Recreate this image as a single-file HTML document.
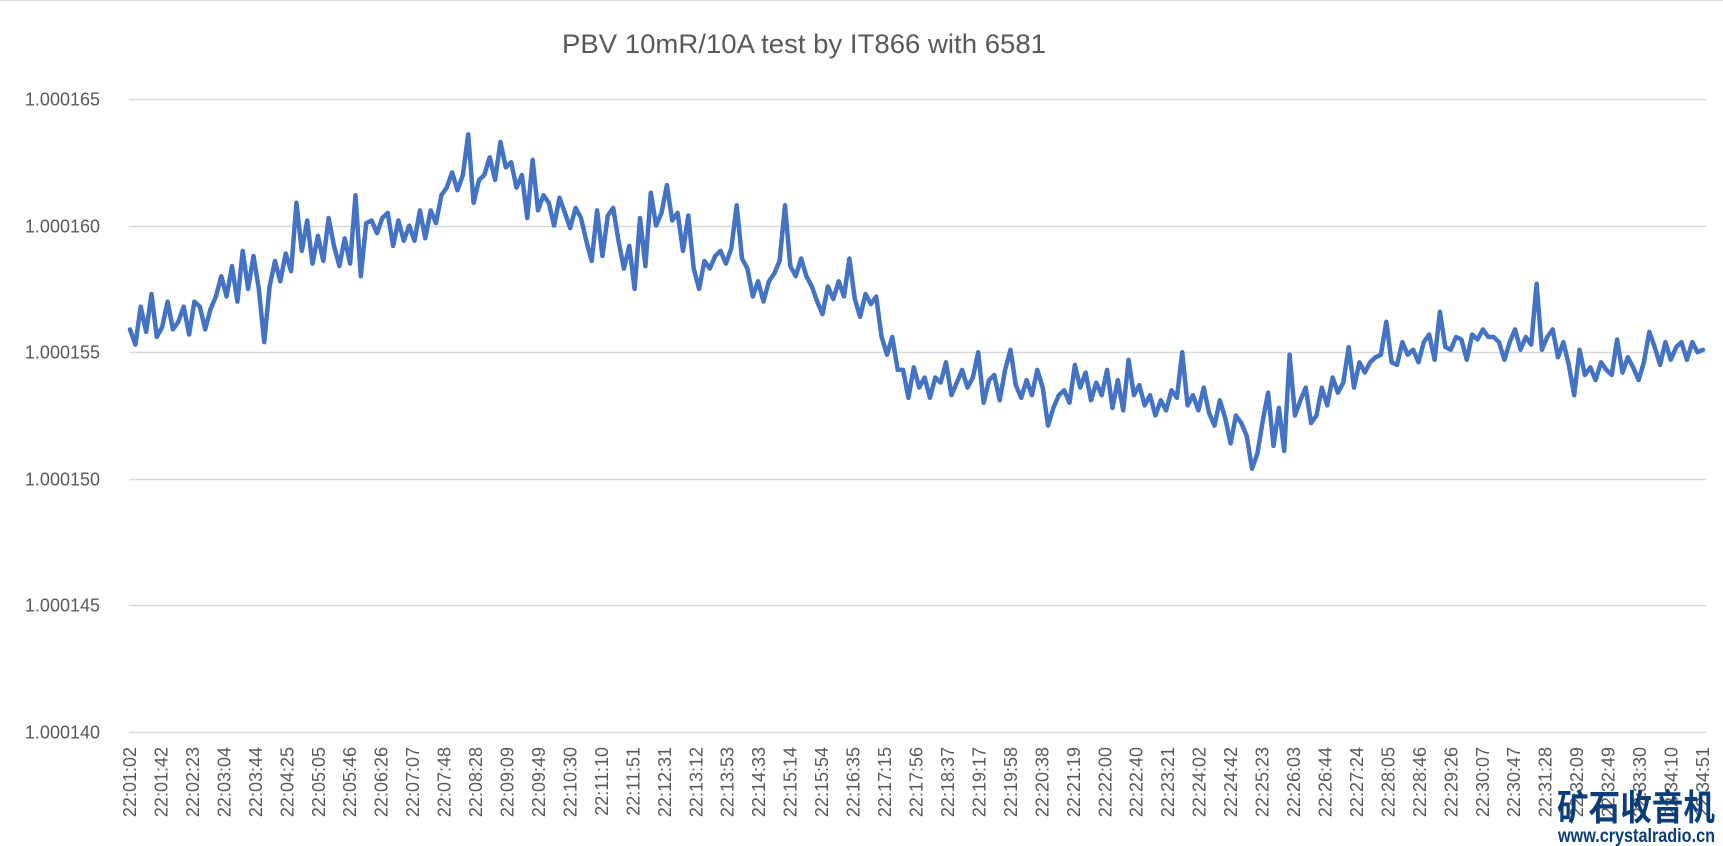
<!DOCTYPE html>
<html><head><meta charset="utf-8"><style>
html,body{margin:0;padding:0;background:#fff;}
svg{display:block;}
</style></head><body>
<svg id="chart" width="1723" height="846" xmlns="http://www.w3.org/2000/svg">
<rect x="0" y="0" width="1723" height="846" fill="#fff"/>
<line x1="0" y1="0.5" x2="1723" y2="0.5" stroke="#d9d9d9" stroke-width="1"/>
<text x="804" y="53" text-anchor="middle" font-family="Liberation Sans, sans-serif" font-size="27" fill="#595959" textLength="484" lengthAdjust="spacingAndGlyphs">PBV 10mR/10A test by IT866 with 6581</text>
<g id="grid"></g>
<g id="ylabels"></g>
<g id="xlabels"></g>
<path id="series" fill="none" stroke="#4472C4" stroke-width="4.5" stroke-linejoin="round" stroke-linecap="round"/>
<g>
<text x="1557" y="820" font-family="Liberation Sans, Noto Sans CJK SC, sans-serif" font-size="36" font-weight="bold" fill="#0b3d7a" textLength="158" lengthAdjust="spacingAndGlyphs">矿石收音机</text>
<text x="1558" y="842" font-family="Liberation Sans, sans-serif" font-size="19" font-weight="bold" fill="#0b3d7a" textLength="157" lengthAdjust="spacingAndGlyphs">www.crystalradio.cn</text>
</g>
</svg>
<script>
const yTicks = [140, 145, 150, 155, 160, 165];
const yTickLabels = ["1.000140","1.000145","1.000150","1.000155","1.000160","1.000165"];
const xTickLabels = ["22:01:02","22:01:42","22:02:23","22:03:04","22:03:44","22:04:25","22:05:05","22:05:46","22:06:26","22:07:07","22:07:48","22:08:28","22:09:09","22:09:49","22:10:30","22:11:10","22:11:51","22:12:31","22:13:12","22:13:53","22:14:33","22:15:14","22:15:54","22:16:35","22:17:15","22:17:56","22:18:37","22:19:17","22:19:58","22:20:38","22:21:19","22:22:00","22:22:40","22:23:21","22:24:02","22:24:42","22:25:23","22:26:03","22:26:44","22:27:24","22:28:05","22:28:46","22:29:26","22:30:07","22:30:47","22:31:28","22:32:09","22:32:49","22:33:30","22:34:10","22:34:51"];
// values in units of 1e-6 above 1.000000 (i.e., 155.0 => 1.000155)
const values = [
155.9,155.3,156.8,155.8,157.3,155.6,
156.0,157.0,155.9,156.2,156.8,155.7,
157.0,156.8,155.9,156.7,157.2,158.0,
157.2,158.4,157.0,159.0,157.5,158.8,
157.5,155.4,157.6,158.6,157.8,158.9,
158.2,160.9,159.0,160.2,158.5,159.6,
158.6,160.3,159.2,158.4,159.5,158.5,
161.2,158.0,160.1,160.2,159.7,160.3,
160.5,159.2,160.2,159.4,160.0,159.4,
160.6,159.5,160.6,160.1,161.2,161.5,
162.1,161.4,162.0,163.6,160.9,161.8,
162.0,162.7,161.8,163.3,162.3,162.5,
161.5,162.0,160.3,162.6,160.6,161.2,
160.9,160.0,161.1,160.5,159.9,160.7,
160.3,159.4,158.6,160.6,158.8,160.4,
160.7,159.4,158.3,159.2,157.5,160.3,
158.4,161.3,160.0,160.5,161.6,160.2,
160.5,159.0,160.4,158.3,157.5,158.6,
158.3,158.8,159.0,158.5,159.1,160.8,
158.7,158.3,157.2,157.8,157.0,157.8,
158.1,158.6,160.8,158.4,158.0,158.7,
158.0,157.6,157.0,156.5,157.6,157.1,
157.8,157.2,158.7,157.1,156.4,157.3,
156.9,157.2,155.6,154.9,155.6,154.3,
154.3,153.2,154.4,153.6,154.0,153.2,
154.0,153.8,154.6,153.3,153.8,154.3,
153.6,154.0,155.0,153.0,153.9,154.1,
153.1,154.3,155.1,153.7,153.2,153.9,
153.3,154.3,153.6,152.1,152.8,153.3,
153.5,153.0,154.5,153.6,154.2,153.1,
153.8,153.3,154.3,152.8,153.9,152.7,
154.7,153.3,153.7,152.9,153.3,152.5,
153.1,152.7,153.5,153.2,155.0,152.9,
153.3,152.7,153.6,152.6,152.1,153.1,
152.4,151.4,152.5,152.2,151.7,150.4,
151.0,152.3,153.4,151.3,152.8,151.1,
154.9,152.5,153.1,153.6,152.2,152.5,
153.6,152.9,154.0,153.4,153.8,155.2,
153.6,154.6,154.2,154.6,154.8,154.9,
156.2,154.6,154.5,155.4,154.9,155.1,
154.6,155.4,155.7,154.7,156.6,155.2,
155.1,155.6,155.5,154.7,155.7,155.5,
155.9,155.6,155.6,155.4,154.7,155.4,
155.9,155.1,155.6,155.3,157.7,155.1,
155.6,155.9,154.8,155.4,154.5,153.3,
155.1,154.1,154.4,153.9,154.6,154.3,
154.1,155.5,154.2,154.8,154.4,153.9,
154.6,155.8,155.2,154.5,155.4,154.7,
155.2,155.4,154.7,155.4,155.0,155.1
];

const NS = "http://www.w3.org/2000/svg";
const plotLeft = 129, plotRight = 1706, firstX = 130, lastX = 1703;
const yMin = 140, yMax = 165, yBottom = 732, yTop = 99;
function yScale(v){ return yBottom - (v - yMin) / (yMax - yMin) * (yBottom - yTop); }
function xScale(i, n){ return firstX + i / (n - 1) * (lastX - firstX); }

const grid = document.getElementById('grid');
const yl = document.getElementById('ylabels');
yTicks.forEach((t, i) => {
  const y = Math.round(yScale(t)) + 0.5;
  const ln = document.createElementNS(NS, 'line');
  
  
  ln.setAttribute('x1', plotLeft); ln.setAttribute('x2', plotRight);
  ln.setAttribute('y1', y); ln.setAttribute('y2', y);
  ln.setAttribute('stroke', '#d9d9d9'); ln.setAttribute('stroke-width', '1.5');
  grid.appendChild(ln);
  const tx = document.createElementNS(NS, 'text');
  
  
  tx.setAttribute('x', 100); tx.setAttribute('y', y + 6);
  tx.setAttribute('text-anchor', 'end');
  tx.setAttribute('font-family', 'Liberation Sans, sans-serif');
  tx.setAttribute('font-size', '18');
  tx.setAttribute('fill', '#595959');
  tx.textContent = yTickLabels[i];
  yl.appendChild(tx);
});

const xl = document.getElementById('xlabels');
xTickLabels.forEach((lab, i) => {
  const x = xScale(i, xTickLabels.length);
  const tx = document.createElementNS(NS, 'text');
  
  
  tx.setAttribute('transform', 'translate(' + (x + 6) + ',747) rotate(-90)');
  tx.setAttribute('text-anchor', 'end');
  tx.setAttribute('font-family', 'Liberation Sans, sans-serif');
  tx.setAttribute('font-size', '18');
  tx.setAttribute('fill', '#595959');
  tx.textContent = lab;
  xl.appendChild(tx);
});

let d = '';
values.forEach((v, i) => {
  d += (i ? 'L' : 'M') + xScale(i, values.length).toFixed(1) + ',' + yScale(v).toFixed(1);
});
document.getElementById('series').setAttribute('d', d);
</script>
</body></html>
